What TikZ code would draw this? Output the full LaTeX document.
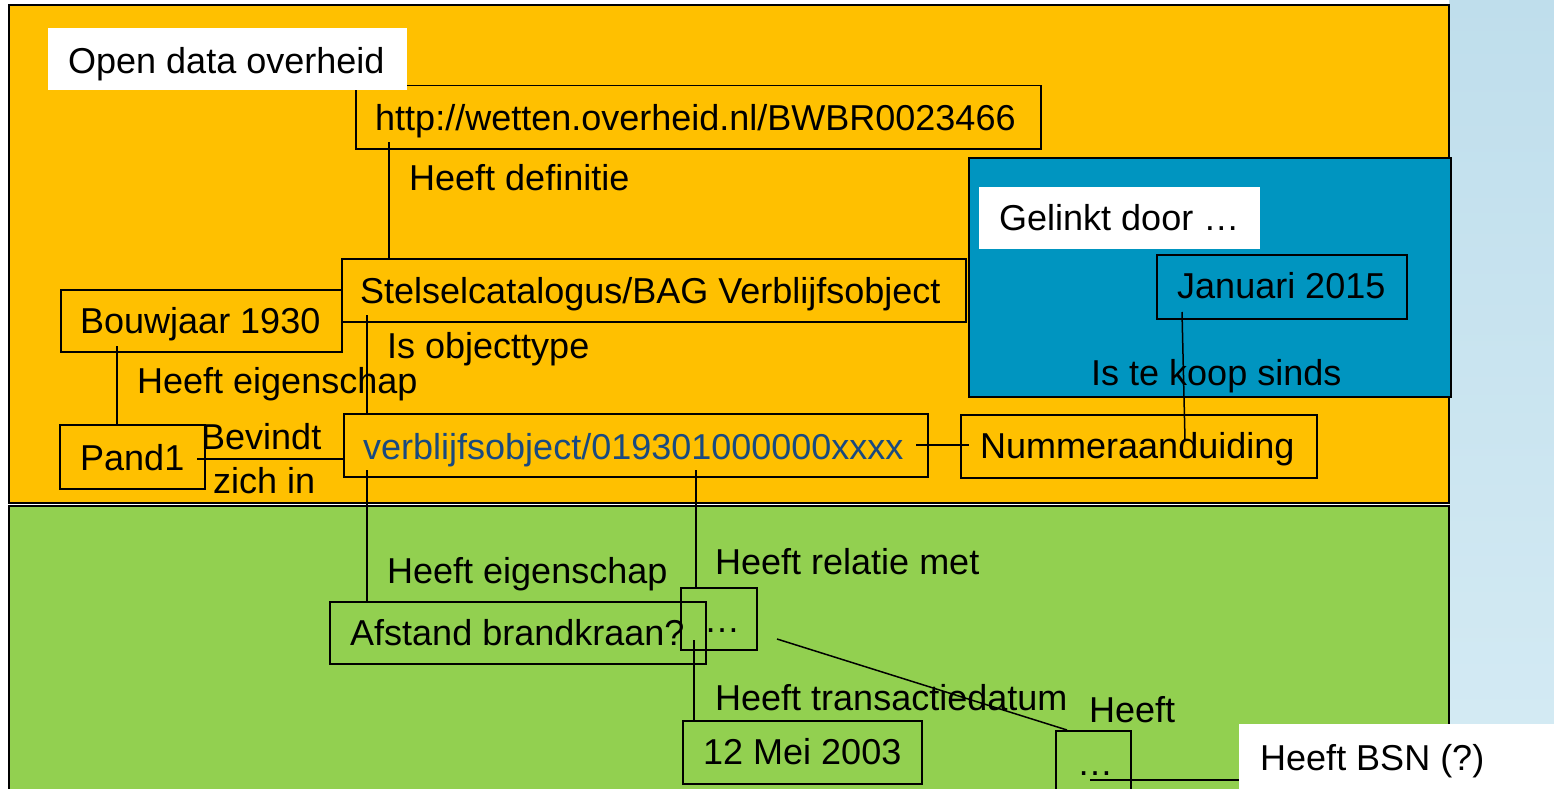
\documentclass[tikz,border=0pt]{standalone}
\usepackage{fontspec}
\setmainfont{Liberation Sans}
\usetikzlibrary{calc}
\definecolor{ylw}{HTML}{FFC000}
\definecolor{grn}{HTML}{92D050}
\definecolor{blu}{HTML}{0095C0}
\definecolor{txtblue}{HTML}{1A4A80}
\definecolor{bgtop}{HTML}{BFDEEC}
\definecolor{bgbot}{HTML}{D5EBF4}
\begin{document}
\begin{tikzpicture}[x=1pt,y=-1pt,
  box/.style={draw=black, line width=1.5pt, inner sep=0pt, anchor=north west},
  panel/.style={draw=black, line width=1.8pt},
  wlabel/.style={fill=white, inner sep=0pt, anchor=north west},
  lbl/.style={anchor=base west, inner sep=0pt, font=\fontsize{36}{40}\selectfont},
  con/.style={draw=black, line width=1.5pt}]
\useasboundingbox (0,0) rectangle (1554,789);
\fill[white] (0,0) rectangle (1554,789);
\shade[top color=bgtop, bottom color=bgbot] (1449,0) rectangle (1554,789);
% panels
\filldraw[panel, fill=ylw] (9,5) rectangle (1449,503);
\filldraw[panel, fill=grn] (9,506) rectangle (1449,800);
\filldraw[panel, fill=blu] (969,158) rectangle (1451,397);
% boxes
\node[box, minimum width=685pt, minimum height=63pt] (http) at (355,85) {};
\node[box, minimum width=624pt, minimum height=63pt] (stel) at (341,258) {};
\node[box, minimum width=281pt, minimum height=62pt] (bouw) at (60,289) {};
\node[box, minimum width=145pt, minimum height=64pt] (pand) at (59,424) {};
\node[box, minimum width=584pt, minimum height=63pt] (vbo) at (343,413) {};
\node[box, minimum width=356pt, minimum height=63pt] (num) at (960,414) {};
\node[box, minimum width=250pt, minimum height=64pt] (jan) at (1156,254) {};
\node[box, minimum width=376pt, minimum height=62pt] (afs) at (329,601) {};
\node[box, minimum width=76pt, minimum height=62pt] (dot1) at (680,587) {};
\node[box, minimum width=239pt, minimum height=63pt] (mei) at (682,720) {};
\node[box, minimum width=75pt, minimum height=80pt] (dot2) at (1055,730) {};
% connector end points
\coordinate (c1) at (389,142);
\coordinate (c2) at (117,346);
\coordinate (c3) at (367,315);
\coordinate (c4) at (197,459);
\coordinate (c5) at (916,445);
\coordinate (c6) at (1182,312);
\coordinate (c6b) at (1185,440);
\coordinate (c7) at (367,470);
\coordinate (c8) at (696,470);
\coordinate (c9) at (694,640);
\coordinate (c10) at (777,639);
\coordinate (c10b) at (1067,730);
\coordinate (c11) at (1090,780);
\coordinate (c11b) at (969,445);
% connectors
\draw[con] (c1) -- (c1 |- stel.north);
\draw[con] (c2) -- (c2 |- pand.north);
\draw[con] (c3) -- (c3 |- vbo.north);
\draw[con] (c4) -- (c4 -| vbo.west);
\draw[con] (c5) -- (c11b);
\draw[con] (c6) -- (c6b);
\draw[con] (c7) -- (c7 |- afs.north);
\draw[con] (c8) -- (c8 |- dot1.north);
\draw[con] (c9) -- (c9 |- mei.north);
\draw[con] (c10) -- (c10b);
% white labels
\node[wlabel, minimum width=359pt, minimum height=62pt] (open) at (48,28) {};
\node[wlabel, minimum width=281pt, minimum height=62pt] (gel) at (979,187) {};
\node[wlabel, minimum width=320pt, minimum height=70pt] (bsn) at (1239,724) {};
\draw[con] (c11) -- (c11 -| bsn.west);
% texts
\node[lbl] (t_open) at (68,74) {Open data overheid};
\node[lbl] (t_http) at (375,130) {http://wetten.overheid.nl/BWBR0023466};
\node[lbl] (t_def) at (409,190) {Heeft definitie};
\node[lbl] (t_stel) at (360,303) {Stelselcatalogus/BAG Verblijfsobject};
\node[lbl] (t_bouw) at (80,333) {Bouwjaar 1930};
\node[lbl] (t_obj) at (387,358) {Is objecttype};
\node[lbl] (t_eig1) at (137,393) {Heeft eigenschap};
\node[lbl] (t_pand) at (80,470) {Pand1};
\node[lbl] (t_bev) at (201,449) {Bevindt};
\node[lbl] (t_zich) at (213,493) {zich in};
\node[lbl, text=txtblue] (t_vbo) at (363,459) {verblijfsobject/019301000000xxxx};
\node[lbl] (t_num) at (980,458) {Nummeraanduiding};
\node[lbl] (t_jan) at (1177,298) {Januari 2015};
\node[lbl] (t_koop) at (1091,385) {Is te koop sinds};
\node[lbl] (t_gel) at (999,230) {Gelinkt door …};
\node[lbl] (t_eig2) at (387,583) {Heeft eigenschap};
\node[lbl] (t_rel) at (715,574) {Heeft relatie met};
\node[lbl] (t_afs) at (350,645) {Afstand brandkraan?};
\node[lbl] (t_dot1) at (704,632) {…};
\node[lbl] (t_trans) at (715,710) {Heeft transactiedatum};
\node[lbl] (t_mei) at (703,764) {12 Mei 2003};
\node[lbl] (t_heeft) at (1089,722) {Heeft};
\node[lbl] (t_dot2) at (1077,775) {…};
\node[lbl] (t_bsn) at (1260,770) {Heeft BSN (?)};
\end{tikzpicture}
\end{document}
